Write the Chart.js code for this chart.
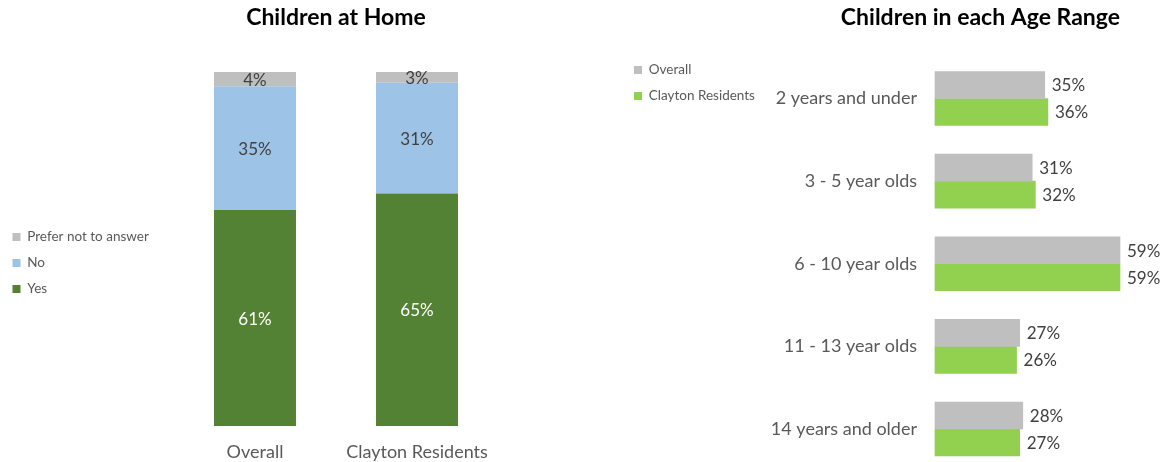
<!DOCTYPE html>
<html>
<head>
<meta charset="utf-8">
<script src="https://cdn.jsdelivr.net/npm/chart.js@4"></script>
<style>
  html, body { margin: 0; padding: 0; background: #ffffff; }
  body { width: 1167px; height: 462px; position: relative; overflow: hidden; }
  #leftWrap { position: absolute; left: 0; top: 0; width: 600px; height: 462px; }
  #rightWrap { position: absolute; left: 600px; top: 0; width: 567px; height: 462px; }
</style>
</head>
<body>
<div id="leftWrap"><canvas id="homeChart" width="600" height="462"></canvas></div>
<div id="rightWrap"><canvas id="ageChart" width="567" height="462"></canvas></div>
<script>
// ---- Data: Children at Home (100% stacked) ----
const homeCategories = ['Overall', 'Clayton Residents'];
const homeYes = [61, 65];
const homeNo = [35, 31];
const homePrefer = [4, 3];

// ---- Data: Children in each Age Range ----
const ageCategories = ['2 years and under', '3 - 5 year olds', '6 - 10 year olds', '11 - 13 year olds', '14 years and older'];
const ageOverall = [35, 31, 59, 27, 28];
const ageClayton = [36, 32, 59, 26, 27];

Chart.defaults.font.family = 'Lato, "Open Sans", sans-serif';
Chart.defaults.color = '#595959';

// 100% stacked shares computed from the raw series
const homeTotals = homeCategories.map((_, i) => homeYes[i] + homeNo[i] + homePrefer[i]);
const share = arr => arr.map((v, i) => v / homeTotals[i] * 100);

// Plugin: put a vertical legend at a given top
const legendPlace = {
  id: 'legendPlace',
  afterLayout(chart, args, opts) {
    const lg = chart.legend;
    if (!lg || opts.top === undefined) return;
    const h = lg.bottom - lg.top;
    lg.top = opts.top;
    lg.bottom = opts.top + h;
  }
};

// Plugin: value labels
const valueLabels = {
  id: 'valueLabels',
  afterDatasetsDraw(chart, args, opts) {
    const ctx = chart.ctx;
    chart.data.datasets.forEach((ds, di) => {
      const meta = chart.getDatasetMeta(di);
      if (meta.hidden) return;
      meta.data.forEach((el, i) => {
        const raw = ds.labelValues[i];
        ctx.save();
        ctx.font = opts.font;
        ctx.fillStyle = ds.labelColor || opts.color;
        ctx.textBaseline = 'middle';
        if (opts.mode === 'center') {
          const c = el.getCenterPoint();
          ctx.textAlign = 'center';
          ctx.fillText(raw + '%', c.x, c.y + 1);
        } else {
          ctx.textAlign = 'left';
          ctx.fillText(raw + '%', el.x + opts.offset, el.y + 1);
        }
        ctx.restore();
      });
    });
  }
};

const legendLabels = { boxWidth: 8, boxHeight: 8, padding: 12.5, color: '#595959', font: { size: 13.5 } };

// ---- Left chart ----
const LEFT_AREA_LEFT = 174;
new Chart(document.getElementById('homeChart'), {
  type: 'bar',
  data: {
    labels: homeCategories,
    datasets: [
      { label: 'Yes', data: share(homeYes), labelValues: homeYes, backgroundColor: '#548235', labelColor: '#ffffff' },
      { label: 'No', data: share(homeNo), labelValues: homeNo, backgroundColor: '#9DC3E6', labelColor: '#404040' },
      { label: 'Prefer not to answer', data: share(homePrefer), labelValues: homePrefer, backgroundColor: '#BFBFBF', labelColor: '#404040' }
    ]
  },
  options: {
    responsive: false,
    animation: false,
    layout: { padding: { left: 0, right: 102, top: 0, bottom: 0 } },
    datasets: { bar: { barPercentage: 1, categoryPercentage: 0.506, borderWidth: 0 } },
    scales: {
      x: {
        stacked: true,
        grid: { display: false, drawTicks: false },
        border: { display: false },
        ticks: { padding: 15, color: '#595959', font: { size: 18 } },
        afterFit(s) { s.height = 36; }
      },
      y: {
        display: false,
        stacked: true,
        min: 0, max: 100,
        afterFit(s) {
          const lw = s.chart.legend ? s.chart.legend.width : 0;
          s.width = Math.max(0, LEFT_AREA_LEFT - lw);
        }
      }
    },
    plugins: {
      title: {
        display: true,
        text: 'Children at Home',
        fullSize: false,
        color: '#000000',
        font: { size: 23, weight: 'bold' },
        padding: { top: 4.2, bottom: 40.2 }
      },
      legend: {
        display: true,
        position: 'left',
        align: 'start',
        reverse: true,
        maxWidth: 260,
        labels: legendLabels
      },
      legendPlace: { top: 217.75 },
      tooltip: { enabled: false },
      valueLabels: { mode: 'center', font: '17px Lato, "Open Sans", sans-serif', color: '#404040' }
    }
  },
  plugins: [legendPlace, valueLabels]
});

// ---- Right chart ----
const RIGHT_PAD_LEFT = 21.5;
const RIGHT_AREA_LEFT = 335; // 935 on the page
new Chart(document.getElementById('ageChart'), {
  type: 'bar',
  data: {
    labels: ageCategories,
    datasets: [
      { label: 'Overall', data: ageOverall, labelValues: ageOverall, backgroundColor: '#BFBFBF', clip: false },
      { label: 'Clayton Residents', data: ageClayton, labelValues: ageClayton, backgroundColor: '#92D050', clip: false }
    ]
  },
  options: {
    indexAxis: 'y',
    responsive: false,
    animation: false,
    layout: { padding: { left: RIGHT_PAD_LEFT, right: 47, top: 0, bottom: 33 } },
    datasets: { bar: { barThickness: 27, borderWidth: 0 } },
    scales: {
      x: {
        display: false,
        min: 0, max: 59
      },
      y: {
        offset: false,
        grid: { display: false, drawTicks: false },
        border: { display: false },
        ticks: { padding: 18, color: '#595959', font: { size: 18 } },
        afterFit(s) {
          const lw = s.chart.legend ? s.chart.legend.width : 0;
          s.width = Math.max(0, RIGHT_AREA_LEFT - RIGHT_PAD_LEFT - lw);
        }
      }
    },
    plugins: {
      title: {
        display: true,
        text: 'Children in each Age Range',
        align: 'end',
        color: '#000000',
        font: { size: 23, weight: 'bold' },
        padding: { top: 4.2, bottom: 66.7 }
      },
      legend: {
        display: true,
        position: 'left',
        align: 'start',
        maxWidth: 200,
        labels: legendLabels
      },
      legendPlace: { top: 50.75 },
      tooltip: { enabled: false },
      valueLabels: { mode: 'end', offset: 7, font: '17px Lato, "Open Sans", sans-serif', color: '#404040' }
    }
  },
  plugins: [legendPlace, valueLabels]
});
</script>
</body>
</html>
